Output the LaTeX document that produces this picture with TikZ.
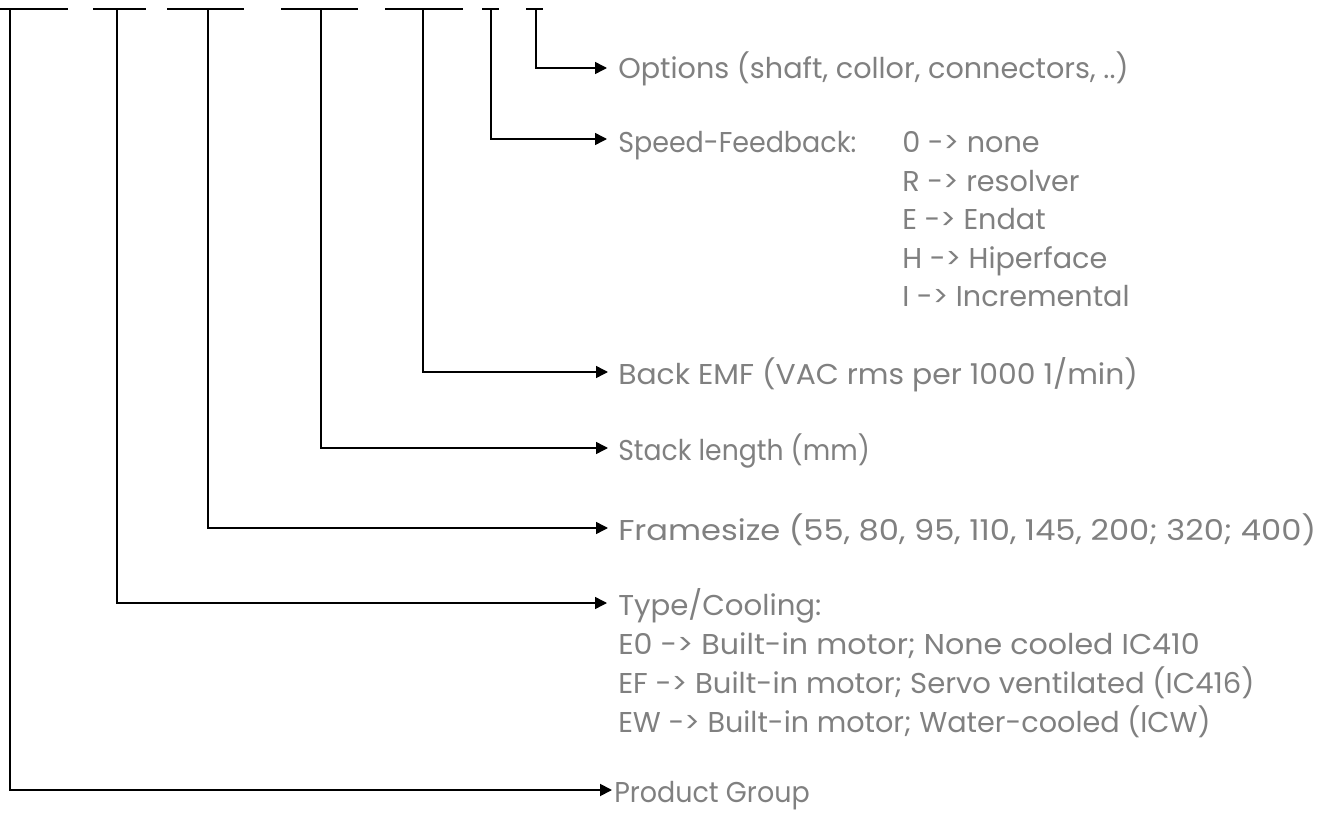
\documentclass[tikz,border=0pt]{standalone}
\usepackage{graphicx}
\usepackage{fontspec}
\setmainfont{Poppins}
\usetikzlibrary{arrows.meta}
\definecolor{txtgray}{RGB}{128,128,128}
\newcommand\hsq[2]{\scalebox{#1}[1]{#2}}
\begin{document}
\begin{tikzpicture}[x=0.75pt,y=-0.75pt,
  lbl/.style={text=txtgray, anchor=base west, inner sep=0pt, font=\fontsize{21.5pt}{26pt}\selectfont},
  conn/.style={draw=black, line width=1.1pt, -{Triangle[length=9pt,width=9pt]}},
  bar/.style={draw=black, line width=1.6pt}]
\useasboundingbox (0,0) rectangle (1318,813);
% underline bars at the top
\foreach \a/\b in {0/68,93/146,167/244,281/358,385/463,482/499,526/543}
  \draw[bar] (\a,9) -- (\b,9);
% tap points
\coordinate (pg) at (10,9);
\coordinate (tc) at (117,9);
\coordinate (fs) at (208,9);
\coordinate (sl) at (321,9);
\coordinate (be) at (423,9);
\coordinate (sf) at (491,9);
\coordinate (op) at (536,9);
% labels
\node[lbl] (opt) at (618,79) {\hsq{1.0}{Options (shaft, collor, connectors, ..)}};
\node[lbl] (spd) at (618,153) {\hsq{0.94}{Speed-Feedback:}};
\node[lbl] (v0) at (902,153) {0 -> none};
\node[lbl] (v1) at (902,192) {R -> resolver};
\node[lbl] (v2) at (902,230) {E -> Endat};
\node[lbl] (v3) at (902,268) {H -> Hiperface};
\node[lbl] (v4) at (902,306) {I -> Incremental};
\node[lbl] (emf) at (618,384) {\hsq{1.04}{Back EMF (VAC rms per 1000 1/min)}};
\node[lbl] (stk) at (618,460) {\hsq{0.93}{Stack length (mm)}};
\node[lbl] (frm) at (618,540) {\hsq{1.12}{Framesize (55, 80, 95, 110, 145, 200; 320; 400)}};
\node[lbl] (typ) at (618,615) {\hsq{1.02}{Type/Cooling:}};
\node[lbl] (t1) at (618,654) {\hsq{1.05}{E0 -> Built-in motor; None cooled IC410}};
\node[lbl] (t2) at (618,693) {\hsq{1.015}{EF -> Built-in motor; Servo ventilated (IC416)}};
\node[lbl] (t3) at (618,732) {\hsq{1.0}{EW -> Built-in motor; Water-cooled (ICW)}};
\node[lbl] (prd) at (614,802) {\hsq{0.94}{Product Group}};
% connectors
\draw[conn] (op) |- ([shift={(-11,-11)}]opt.base west);
\draw[conn] (sf) |- ([shift={(-11,-14)}]spd.base west);
\draw[conn] (be) |- ([shift={(-10,-12)}]emf.base west);
\draw[conn] (sl) |- ([shift={(-10,-12)}]stk.base west);
\draw[conn] (fs) |- ([shift={(-10,-12)}]frm.base west);
\draw[conn] (tc) |- ([shift={(-11,-12)}]typ.base west);
\draw[conn, line width=1.4pt] (pg) |- ([shift={(-2,-12)}]prd.base west);
\end{tikzpicture}
\end{document}
